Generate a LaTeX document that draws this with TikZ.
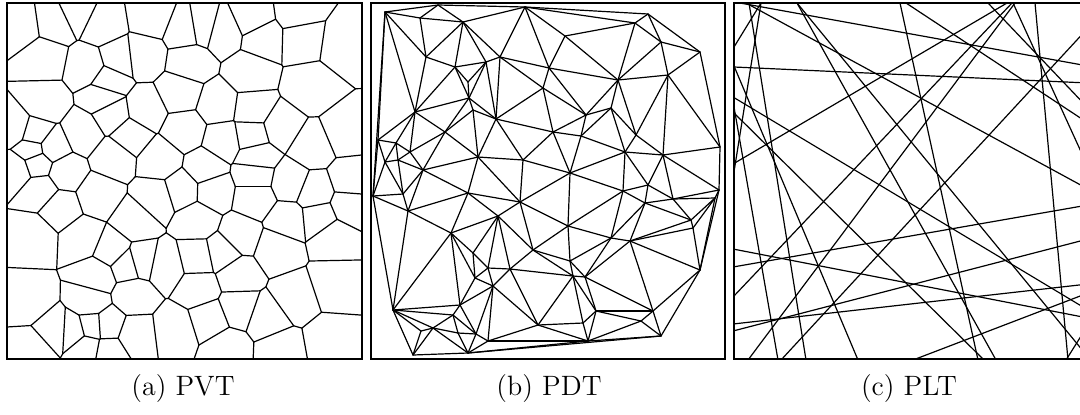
\documentclass[tikz,border=0pt]{standalone}

% ---------------------------------------------------------------
% Empty-circle machinery: for every pair of points (i,j) find the
% interval of circle centres on their bisector whose circle holds
% no other point. A non-empty interval means (i,j) is a Delaunay
% edge, and the interval itself is the Voronoi edge of the pair.
% Integer arithmetic only (\numexpr), coordinates in pixels.
% ---------------------------------------------------------------
\newcount\vzn \newcount\vzi \newcount\vzj \newcount\vzk
\newcount\vzdx \newcount\vzdy \newcount\vzdd
\newcount\vzwx \newcount\vzwy \newcount\vzc \newcount\vznum \newcount\vzt
\newcount\vzlo \newcount\vzhi \newcount\vzcap
\newcount\vzxa \newcount\vzya \newcount\vzxb \newcount\vzyb
\newif\ifvzok \newif\ifvzdel

\def\vzX#1{\csname vzx\number#1\endcsname}
\def\vzY#1{\csname vzy\number#1\endcsname}
\def\vzabs#1{\ifnum#1<0 -\fi#1}
\def\vzclear{\global\vzn=0\relax}
\def\vzpt(#1,#2){\global\advance\vzn by 1\relax
  \expandafter\xdef\csname vzx\the\vzn\endcsname{#1}%
  \expandafter\xdef\csname vzy\the\vzn\endcsname{#2}}

\def\vzrun{\vzi=1\relax\vzloopi}
\def\vzloopi{%
  \ifnum\vzi<\vzn
    \vzj=\vzi\relax \advance\vzj by 1\relax
    \vzloopj
    \advance\vzi by 1\relax
    \expandafter\vzloopi
  \fi}
\def\vzloopj{%
  \ifnum\vzj>\vzn\else
    \vzpair
    \advance\vzj by 1\relax
    \expandafter\vzloopj
  \fi}
\def\vzpair{%
  \vzdx=\numexpr\vzX\vzj-\vzX\vzi\relax
  \vzdy=\numexpr\vzY\vzj-\vzY\vzi\relax
  \vzdd=\numexpr\vzdx*\vzdx+\vzdy*\vzdy\relax
  \vzlo=-2000000000\relax \vzhi=2000000000\relax
  \vzoktrue
  \vzk=1\relax
  \vzloopk
  \ifvzok \ifnum\vzlo<\vzhi \vzemit\fi \fi}
\def\vzloopk{%
  \ifnum\vzk>\vzn\else
    \ifnum\vzk=\vzi\else\ifnum\vzk=\vzj\else\vztest\fi\fi
    \advance\vzk by 1\relax
    \expandafter\vzloopk
  \fi}
\def\vztest{%
  \vzwx=\numexpr2*\vzX\vzk-\vzX\vzi-\vzX\vzj\relax
  \vzwy=\numexpr2*\vzY\vzk-\vzY\vzi-\vzY\vzj\relax
  \vzc=\numexpr\vzwy*\vzdx-\vzwx*\vzdy\relax
  \vznum=\numexpr\vzwx*\vzwx+\vzwy*\vzwy-\vzdd\relax
  \ifnum\vzc=0
    \ifnum\vznum<0 \vzokfalse\vzk=\vzn\relax\fi
  \else
    \vzt=\numexpr\vznum*250/\vzc\relax
    \ifnum\vzc>0
      \ifnum\vzt<\vzhi \vzhi=\vzt\relax\fi
    \else
      \ifnum\vzt>\vzlo \vzlo=\vzt\relax\fi
    \fi
    \ifnum\vzlo<\vzhi\else \vzokfalse\vzk=\vzn\relax\fi
  \fi}
\def\vzemit{\ifvzdel\vzemitdel\else\vzemitvor\fi}
\def\vzemitdel{%
  \edef\vzpax{\vzX\vzi}\edef\vzpay{\vzY\vzi}%
  \edef\vzpbx{\vzX\vzj}\edef\vzpby{\vzY\vzj}%
  \draw[tline] (\vzpax,\vzpay) -- (\vzpbx,\vzpby);}
\def\vzemitvor{%
  \vzcap=\numexpr900000/(\vzabs\vzdx+\vzabs\vzdy)\relax
  \ifnum\vzlo<-\vzcap \vzlo=-\vzcap\relax\fi
  \ifnum\vzhi>\vzcap \vzhi=\vzcap\relax\fi
  \ifnum\vzlo<\vzhi
    \vzxa=\numexpr((\vzX\vzi+\vzX\vzj)*500-\vzlo*\vzdy)/100\relax
    \vzya=\numexpr((\vzY\vzi+\vzY\vzj)*500+\vzlo*\vzdx)/100\relax
    \vzxb=\numexpr((\vzX\vzi+\vzX\vzj)*500-\vzhi*\vzdy)/100\relax
    \vzyb=\numexpr((\vzY\vzi+\vzY\vzj)*500+\vzhi*\vzdx)/100\relax
    \draw[tline] (\the\vzxa,\the\vzya) -- (\the\vzxb,\the\vzyb);
  \fi}

\tikzset{
  tline/.style={line width=0.6pt, line join=round, line cap=round},
  tframe/.style={line width=0.8pt},
  subcap/.style={font=\fontsize{14}{17}\selectfont, inner sep=0pt}
}

\begin{document}
\begin{tikzpicture}[x=0.5pt,y=-0.5pt]
\useasboundingbox (0,0) rectangle (1080,414);

% ---------------- (a) Voronoi tessellation ----------------
\vzclear
\vzpt(20,27)\vzpt(55,22)\vzpt(76,12)\vzpt(103,25)\vzpt(152,17)\vzpt(185,30)
\vzpt(203,27)\vzpt(222,32)\vzpt(253,18)\vzpt(297,12)\vzpt(343,45)\vzpt(263,38)
\vzpt(302,39)\vzpt(43,58)\vzpt(88,67)\vzpt(108,81)\vzpt(118,58)\vzpt(143,55)
\vzpt(190,62)\vzpt(250,73)\vzpt(310,87)\vzpt(103,97)\vzpt(145,110)\vzpt(180,93)
\vzpt(218,105)\vzpt(253,110)\vzpt(112,115)\vzpt(44,103)\vzpt(83,133)\vzpt(15,128)
\vzpt(35,134)\vzpt(185,130)\vzpt(280,127)\vzpt(345,133)\vzpt(130,135)\vzpt(252,135)
\vzpt(223,140)\vzpt(312,147)\vzpt(52,147)\vzpt(32,150)\vzpt(37,163)\vzpt(17,170)
\vzpt(65,172)\vzpt(113,157)\vzpt(257,157)\vzpt(160,160)\vzpt(205,168)
\vzpt(40,190)\vzpt(98,195)\vzpt(60,208)\vzpt(33,236)\vzpt(30,301)\vzpt(33,350)
\vzpt(55,330)\vzpt(73,331)\vzpt(92,326)\vzpt(107,325)\vzpt(87,348)\vzpt(108,352)
\vzpt(90,302)\vzpt(83,238)\vzpt(112,250)\vzpt(97,276)\vzpt(127,265)\vzpt(141,261)
\vzpt(133,295)\vzpt(135,335)\vzpt(135,221)\vzpt(156,198)\vzpt(165,266)\vzpt(175,330)
\vzpt(182,190)\vzpt(197,220)\vzpt(213,191)\vzpt(255,198)\vzpt(290,182)\vzpt(315,192)
\vzpt(348,206)\vzpt(350,180)\vzpt(320,218)\vzpt(333,236)\vzpt(287,221)\vzpt(277,248)
\vzpt(240,235)\vzpt(222,253)\vzpt(198,258)\vzpt(237,275)\vzpt(199,288)\vzpt(295,298)
\vzpt(334,285)\vzpt(330,341)\vzpt(267,318)\vzpt(280,350)\vzpt(238,308)\vzpt(210,319)
\vzpt(227,348)\vzpt(255,175)
\begin{scope}
  \clip (7,3) rectangle (362,359);
  \begin{scope}[x=0.05pt,y=-0.05pt]
    \vzdelfalse\vzrun
  \end{scope}
\end{scope}
\draw[tframe] (7,3) rectangle (362,359);

% ---------------- (b) Delaunay triangulation ----------------
\vzclear
\vzpt(385,12)\vzpt(438,5)\vzpt(420,18)\vzpt(463,22)\vzpt(525,7)\vzpt(426,57)
\vzpt(455,67)\vzpt(486,62)\vzpt(500,57)\vzpt(549,68)\vzpt(468,82)\vzpt(469,98)
\vzpt(415,112)\vzpt(473,110)\vzpt(496,119)\vzpt(543,88)\vzpt(445,132)\vzpt(378,140)
\vzpt(396,143)\vzpt(410,152)\vzpt(398,160)\vzpt(385,162)\vzpt(478,157)\vzpt(523,160)
\vzpt(423,170)
\vzpt(373,196)\vzpt(403,194)\vzpt(468,193)\vzpt(520,202)\vzpt(408,211)\vzpt(498,216)
\vzpt(451,233)\vzpt(533,250)\vzpt(473,253)\vzpt(488,268)\vzpt(510,269)\vzpt(493,286)
\vzpt(475,278)\vzpt(393,310)\vzpt(460,305)\vzpt(453,315)\vzpt(433,328)\vzpt(421,331)
\vzpt(458,333)\vzpt(476,334)\vzpt(538,325)\vzpt(413,355)\vzpt(468,353)\vzpt(488,341)
\vzpt(648,14)\vzpt(635,23)\vzpt(565,36)\vzpt(661,42)\vzpt(700,52)\vzpt(618,80)
\vzpt(668,75)\vzpt(586,115)\vzpt(611,108)\vzpt(636,135)\vzpt(625,152)\vzpt(581,136)
\vzpt(553,132)\vzpt(663,155)\vzpt(720,147)\vzpt(570,173)
\vzpt(623,191)\vzpt(648,185)\vzpt(719,190)\vzpt(715,198)\vzpt(645,203)\vzpt(673,199)
\vzpt(691,220)\vzpt(693,228)\vzpt(568,226)\vzpt(611,238)\vzpt(630,241)\vzpt(700,270)
\vzpt(573,276)\vzpt(585,277)\vzpt(570,261)\vzpt(596,311)\vzpt(641,321)\vzpt(653,311)
\vzpt(583,323)\vzpt(588,341)\vzpt(661,336)
\vzdeltrue\vzrun
\draw[tframe] (371,3) rectangle (725,359);

% ---------------- (c) Line tessellation ----------------
\begin{scope}
  \clip (734,3) rectangle (1080,359);
  \draw[tline] (740,3) -- (1088,66);
  \draw[tline] (734,67) -- (1088,83);
  \draw[tline] (734,47) -- (761,3);
  \draw[tline] (749,3) -- (806,360);
  \draw[tline] (761,3) -- (733,178);
  \draw[tline] (734,107) -- (778,360);
  \draw[tline] (734,66) -- (858,360);
  \draw[tline] (734,113) -- (984,360);
  \draw[tline] (1007,3) -- (733,164);
  \draw[tline] (1012,3) -- (733,297);
  \draw[tline] (1015,3) -- (748,360);
  \draw[tline] (1088,28) -- (781,360);
  \draw[tline] (900,3) -- (978,360);
  \draw[tline] (1035,3) -- (1068,360);
  \draw[tline] (797,3) -- (996,360);
  \draw[tline] (797,3) -- (1088,357);
  \draw[tline] (746,3) -- (1088,189);
  \draw[tline] (906,3) -- (1088,123);
  \draw[tline] (988,3) -- (1088,108);
  \draw[tline] (1013,3) -- (1088,167);
  \draw[tline] (733,267) -- (1088,205);
  \draw[tline] (733,249) -- (1088,318);
  \draw[tline] (733,324) -- (1088,284);
  \draw[tline] (733,331) -- (1088,239);
  \draw[tline] (913,360) -- (1088,293);
  \draw[tline] (1066,360) -- (1088,325);
  \draw[tline] (733,97) -- (1088,310);
\end{scope}
\draw[tframe] (1080,3) -- (734,3) -- (734,359) -- (1080,359);

% ---------------- captions ----------------
\node[subcap] (capa) at (183,389) {(a) PVT};
\node[subcap] (capb) at (549,389) {(b) PDT};
\node[subcap] (capc) at (909,389) {(c) PLT};
\end{tikzpicture}
\end{document}
